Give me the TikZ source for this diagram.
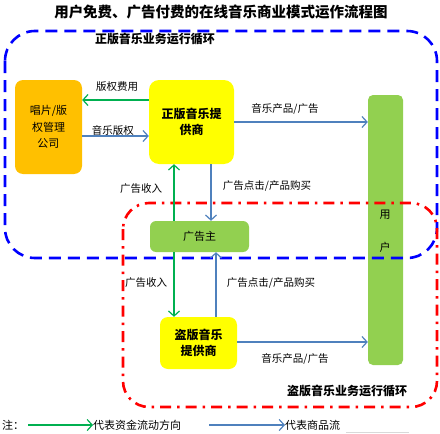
\documentclass[tikz,border=0pt]{standalone}
\usepackage{fontspec}
\newfontfamily\cjk{Noto Sans CJK SC}
\usetikzlibrary{arrows.meta}
\definecolor{cgreen}{HTML}{00B050}
\definecolor{cblue}{HTML}{4F81BD}
\definecolor{corange}{HTML}{FFC000}
\definecolor{clime}{HTML}{92D050}
\definecolor{cyel}{HTML}{FFFF00}
\tikzset{
  every node/.style={font=\cjk\fontsize{10.5}{12}\selectfont, inner sep=0pt},
  ylbox/.style={fill=cyel, rounded corners=10pt, font=\cjk\bfseries\fontsize{12}{16}\selectfont, align=center},
  garrow/.style={draw=cgreen, line width=1.2pt, -{Straight Barb[length=5pt,width=11pt]}},
  barrow/.style={draw=cblue, line width=1.2pt, -{Straight Barb[length=5pt,width=11pt]}},
  lbl/.style={font=\cjk\fontsize{10.5}{12}\selectfont},
  blueloop/.style={draw=blue, line width=2.6pt, dash pattern=on 12pt off 7pt, rounded corners=30pt},
  redloop/.style={draw=red, line width=2.6pt, dash pattern=on 11pt off 6pt on 2.5pt off 6pt, rounded corners=26pt},
  looplbl/.style={font=\cjk\bfseries\fontsize{12}{14}\selectfont},
}
\begin{document}
\begin{tikzpicture}[x=1pt,y=-1pt]
\useasboundingbox (0,0) rectangle (440,434);
% title
\node[font=\cjk\bfseries\fontsize{14.5}{16}\selectfont] (title) at (221,12) {用户免费、广告付费的在线音乐商业模式运作流程图};
% boxes
\node[fill=corange, rounded corners=8pt, minimum width=67pt, minimum height=94pt, align=center, font=\cjk\fontsize{11}{16.5}\selectfont] (rec) at (48.5,127) {唱片/版\\权管理\\公司};
\node[ylbox, minimum width=85pt, minimum height=84pt] (legal) at (191.5,122) {正版音乐提\\供商};
\node[fill=clime, rounded corners=5pt, minimum width=35pt, minimum height=270pt] (user) at (385.5,230) {};
\node[font=\cjk\fontsize{11}{12}\selectfont] (u1) at (385,215) {用};
\node[font=\cjk\fontsize{11}{12}\selectfont] (u2) at (385,247) {户};
\node[fill=clime, rounded corners=6pt, minimum width=99pt, minimum height=31pt, font=\cjk\fontsize{11}{12}\selectfont] (ad) at (199.5,236.5) {广告主};
\node[ylbox, rounded corners=8pt, minimum width=77pt, minimum height=52pt] (pirate) at (198.5,343) {盗版音乐\\提供商};
% loops
\draw[blueloop] (5,31) rectangle (437,258);
\draw[redloop] (123,203) rectangle (437,407);
\node[looplbl] (l1) at (155,39) {正版音乐业务运行循环};
\node[looplbl] (l2) at (347,391) {盗版音乐业务运行循环};
% arrows
\draw[garrow] (legal.west |- 0,100) -- (rec.east |- 0,100);
\node[lbl] (t1) at (117,87) {版权费用};
\draw[barrow] (rec.east |- 0,136) -- (legal.west |- 0,136);
\node[lbl] (t2) at (113,130) {音乐版权};
\draw[barrow] (legal.east |- 0,122) -- (user.west |- 0,122);
\node[lbl] (t3) at (285,109) {音乐产品/广告};
\draw[garrow] (ad.north -| 174,0) -- (legal.south -| 174,0);
\node[lbl] (t4) at (141,189) {广告收入};
\draw[barrow] (legal.south -| 211,0) -- (ad.north -| 211,0);
\node[lbl] (t5) at (267,186) {广告点击/产品购买};
\draw[garrow] (ad.south -| 174,0) -- (pirate.north -| 174,0);
\node[lbl] (t6) at (146,283) {广告收入};
\draw[barrow] (pirate.north -| 216,0) -- (ad.south -| 216,0);
\node[lbl] (t7) at (271,283) {广告点击/产品购买};
\draw[barrow] (pirate.east |- 0,342) -- (user.west |- 0,342);
\node[lbl] (t8) at (295,359) {音乐产品/广告};
% legend
\node[font=\cjk\fontsize{11}{12}\selectfont] (note) at (13,425) {注：};
\coordinate (g0) at (28,425);
\node[anchor=west, font=\cjk\fontsize{11}{12}\selectfont] (gl) at (93,425) {代表资金流动方向};
\draw[garrow] (g0) -- (gl.west);
\coordinate (b0) at (209,425);
\node[anchor=west, font=\cjk\fontsize{11}{12}\selectfont] (bl) at (285,425) {代表商品流};
\draw[barrow] (b0) -- (bl.west);
\draw[black!15, line width=0.6pt] (346,432) -- (409,432);
\end{tikzpicture}
\end{document}
